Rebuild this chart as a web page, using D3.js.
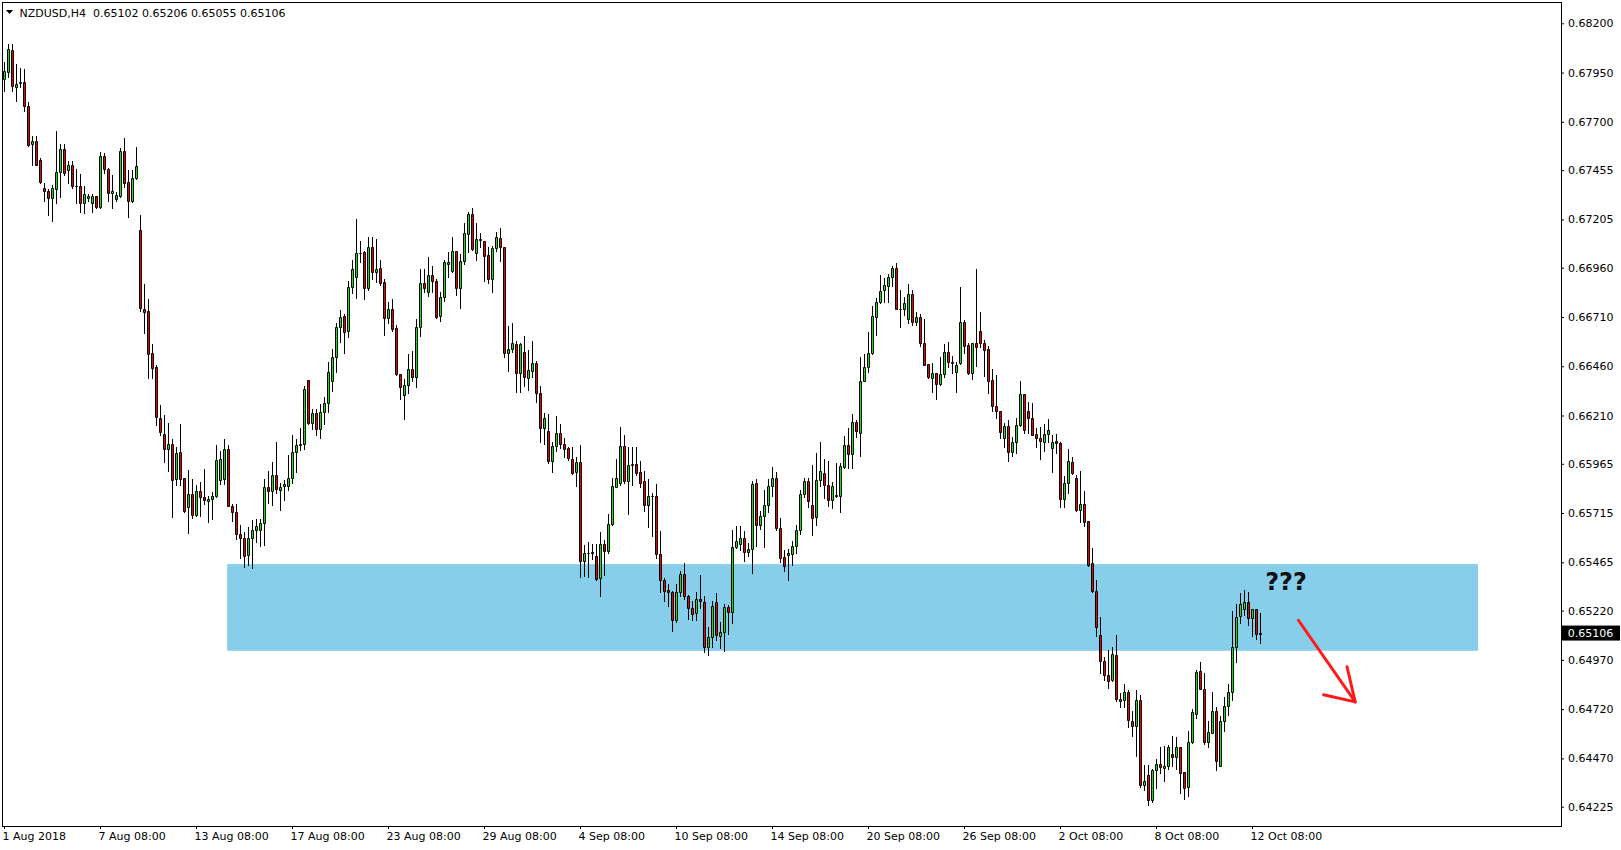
<!DOCTYPE html>
<html><head><meta charset="utf-8">
<script src="https://cdn.jsdelivr.net/npm/d3@7"></script>
<style>html,body{margin:0;padding:0;background:#fff;overflow:hidden}</style>
</head><body>
<svg id="chart" width="1621" height="850"></svg>
<script>
// ---- DATA (NZDUSD H4, 1 Aug 08:00 -> 12 Oct 16:00 2018) ----
const symbolTitle = "NZDUSD,H4";
const opens = [
0.67918,0.67952,0.68065,0.67879,0.67899,0.67901,0.67779,0.67587,0.67604,0.67507,
0.67364,0.67350,0.67316,0.67360,0.67443,0.67561,0.67455,0.67482,0.67372,0.67375,
0.67287,0.67316,0.67287,0.67323,0.67270,0.67527,0.67460,0.67340,0.67309,0.67326,
0.67553,0.67396,0.67296,0.67414,0.67151,0.66749,0.66741,0.66526,0.66455,0.66196,
0.66115,0.66039,0.66065,0.65887,0.66024,0.65892,0.65744,0.65811,0.65703,0.65828,
0.65796,0.65774,0.65787,0.65799,0.65882,0.65887,0.66039,0.65752,0.65720,0.65608,
0.65588,0.65500,0.65588,0.65627,0.65627,0.65664,0.65847,0.65825,0.65906,0.65833,
0.65853,0.65850,0.65895,0.66027,0.66058,0.66065,0.66391,0.66174,0.66222,0.66140,
0.66230,0.66272,0.66386,0.66509,0.66661,0.66715,0.66641,0.66860,0.66911,0.67033,
0.67038,0.66859,0.67063,0.66937,0.66957,0.66886,0.66703,0.66749,0.66653,0.66419,
0.66315,0.66364,0.66444,0.66407,0.66657,0.66880,0.66838,0.66923,0.66892,0.66717,
0.66810,0.66977,0.66943,0.67044,0.66859,0.66994,0.67129,0.67230,0.67036,0.67104,
0.67097,0.67024,0.66904,0.67058,0.67109,0.67063,0.66529,0.66546,0.66573,0.66424,
0.66531,0.66399,0.66438,0.66475,0.66323,0.66145,0.66133,0.65981,0.66055,0.66120,
0.66064,0.66044,0.65988,0.65922,0.65973,0.65474,0.65511,0.65513,0.65498,0.65383,
0.65559,0.65520,0.65660,0.65849,0.65870,0.66055,0.65880,0.65959,0.65964,0.65922,
0.65878,0.65756,0.65802,0.65802,0.65508,0.65376,0.65325,0.65314,0.65170,0.65312,
0.65407,0.65295,0.65233,0.65207,0.65278,0.65263,0.65033,0.65086,0.65263,0.65089,
0.65111,0.65238,0.65211,0.65542,0.65557,0.65588,0.65515,0.65532,0.65866,0.65652,
0.65698,0.65755,0.65850,0.65892,0.65638,0.65491,0.65500,0.65508,0.65549,0.65630,
0.65811,0.65878,0.65757,0.65693,0.65884,0.65918,0.65855,0.65779,0.65808,0.65799,
0.65951,0.66061,0.66014,0.66176,0.66121,0.66386,0.66455,0.66526,0.66712,0.66785,
0.66847,0.66868,0.66911,0.66957,0.66749,0.66749,0.66698,0.66827,0.66682,0.66709,
0.66580,0.66470,0.66399,0.66425,0.66369,0.66420,0.66531,0.66480,0.66430,0.66475,
0.66683,0.66568,0.66424,0.66577,0.66641,0.66580,0.66546,0.66391,0.66260,0.66235,
0.66095,0.66157,0.66027,0.66078,0.66162,0.66318,0.66233,0.66196,0.66117,0.66095,
0.66078,0.66117,0.66044,0.66081,0.66070,0.65786,0.65870,0.65976,0.65892,0.65728,
0.65760,0.65675,0.65461,0.65322,0.65094,0.64966,0.64895,0.64866,0.64996,0.64771,
0.64768,0.64807,0.64661,0.64633,0.64768,0.64337,0.64387,0.64257,0.64412,0.64441,
0.64421,0.64429,0.64491,0.64476,0.64527,0.64400,0.64324,0.64552,0.64694,0.64914,
0.64821,0.64551,0.64601,0.64713,0.64429,0.64662,0.64738,0.64806,0.65034,0.65193,
0.65227,0.65265,0.65181,0.65227,0.65102];
const highs = [
0.68006,0.68094,0.68094,0.67992,0.67972,0.67969,0.67803,0.67626,0.67626,0.67519,
0.67389,0.67360,0.67377,0.67654,0.67587,0.67587,0.67499,0.67502,0.67460,0.67435,
0.67372,0.67333,0.67333,0.67326,0.67549,0.67541,0.67468,0.67431,0.67343,0.67566,
0.67617,0.67457,0.67457,0.67573,0.67228,0.66877,0.66801,0.66573,0.66467,0.66264,
0.66210,0.66171,0.66092,0.66048,0.66166,0.65892,0.65935,0.65889,0.65858,0.65875,
0.65940,0.65804,0.65824,0.66058,0.66031,0.66092,0.66061,0.65762,0.65762,0.65656,
0.65618,0.65642,0.65681,0.65685,0.65686,0.65887,0.65929,0.65974,0.66075,0.65867,
0.65884,0.66011,0.66112,0.66092,0.66146,0.66360,0.66391,0.66244,0.66244,0.66267,
0.66305,0.66480,0.66548,0.66678,0.66746,0.66724,0.66893,0.66999,0.67207,0.67095,
0.67045,0.67114,0.67114,0.67106,0.66999,0.66903,0.66784,0.66800,0.66670,0.66419,
0.66396,0.66523,0.66537,0.66700,0.66953,0.66953,0.67016,0.66970,0.66902,0.66835,
0.66999,0.67041,0.67117,0.67044,0.67029,0.67188,0.67240,0.67261,0.67188,0.67134,
0.67097,0.67066,0.67071,0.67142,0.67159,0.67063,0.66664,0.66678,0.66590,0.66576,
0.66615,0.66543,0.66588,0.66487,0.66360,0.66225,0.66218,0.66074,0.66208,0.66165,
0.66094,0.66049,0.66049,0.66001,0.66061,0.65553,0.65567,0.65557,0.65557,0.65621,
0.65579,0.65711,0.65892,0.65988,0.66153,0.66111,0.66052,0.66052,0.66052,0.65979,
0.65929,0.65887,0.65816,0.65863,0.65626,0.65385,0.65356,0.65317,0.65356,0.65419,
0.65461,0.65300,0.65267,0.65316,0.65402,0.65295,0.65136,0.65267,0.65309,0.65162,
0.65253,0.65250,0.65630,0.65650,0.65650,0.65625,0.65562,0.65878,0.65888,0.65723,
0.65833,0.65888,0.65948,0.65922,0.65689,0.65529,0.65532,0.65571,0.65652,0.65833,
0.65892,0.65892,0.65959,0.66022,0.66073,0.65990,0.65980,0.65872,0.65968,0.65968,
0.66104,0.66146,0.66219,0.66188,0.66509,0.66523,0.66636,0.66766,0.66805,0.66923,
0.66910,0.66928,0.66971,0.66986,0.66847,0.66810,0.66878,0.66847,0.66737,0.66726,
0.66698,0.66470,0.66475,0.66425,0.66509,0.66573,0.66582,0.66513,0.66483,0.66864,
0.66695,0.66577,0.66577,0.66952,0.66734,0.66593,0.66563,0.66445,0.66416,0.66235,
0.66171,0.66188,0.66100,0.66196,0.66385,0.66318,0.66276,0.66272,0.66145,0.66151,
0.66168,0.66191,0.66112,0.66117,0.66078,0.65904,0.66040,0.65998,0.65909,0.65929,
0.65827,0.65675,0.65540,0.65376,0.65190,0.64984,0.65018,0.65035,0.65097,0.64802,
0.64847,0.64815,0.64712,0.64815,0.64793,0.64438,0.64437,0.64417,0.64468,0.64530,
0.64534,0.64539,0.64584,0.64581,0.64527,0.64400,0.64610,0.64721,0.64919,0.64958,
0.64902,0.64662,0.64806,0.64733,0.64686,0.64780,0.64848,0.65218,0.65254,0.65308,
0.65325,0.65316,0.65227,0.65227,0.65206];
const lows = [
0.67854,0.67930,0.67857,0.67806,0.67879,0.67756,0.67575,0.67482,0.67482,0.67389,
0.67296,0.67228,0.67195,0.67287,0.67321,0.67431,0.67389,0.67364,0.67287,0.67242,
0.67237,0.67299,0.67242,0.67265,0.67262,0.67440,0.67299,0.67262,0.67299,0.67321,
0.67367,0.67215,0.67292,0.67411,0.66740,0.66631,0.66398,0.66398,0.66163,0.66109,
0.65972,0.65926,0.65693,0.65855,0.65858,0.65718,0.65613,0.65688,0.65698,0.65698,
0.65760,0.65669,0.65686,0.65794,0.65862,0.65862,0.65749,0.65673,0.65583,0.65487,
0.65439,0.65449,0.65436,0.65568,0.65546,0.65554,0.65765,0.65757,0.65816,0.65732,
0.65782,0.65833,0.65867,0.65921,0.66036,0.66041,0.66166,0.66142,0.66112,0.66095,
0.66166,0.66230,0.66332,0.66430,0.66582,0.66526,0.66607,0.66830,0.66808,0.66991,
0.66801,0.66847,0.66903,0.66889,0.66872,0.66616,0.66681,0.66639,0.66416,0.66293,
0.66191,0.66323,0.66385,0.66357,0.66613,0.66838,0.66818,0.66838,0.66703,0.66691,
0.66793,0.66911,0.66940,0.66821,0.66757,0.66977,0.67038,0.67050,0.66999,0.67066,
0.66892,0.66884,0.66838,0.67044,0.66995,0.66509,0.66438,0.66534,0.66331,0.66331,
0.66362,0.66340,0.66407,0.66276,0.66073,0.66064,0.65971,0.65925,0.66032,0.66044,
0.66001,0.65985,0.65913,0.65851,0.65393,0.65398,0.65393,0.65483,0.65373,0.65292,
0.65402,0.65511,0.65655,0.65846,0.65858,0.65866,0.65711,0.65858,0.65908,0.65846,
0.65723,0.65643,0.65599,0.65486,0.65312,0.65271,0.65241,0.65114,0.65162,0.65292,
0.65278,0.65179,0.65174,0.65170,0.65233,0.65010,0.64996,0.65033,0.65072,0.65030,
0.65013,0.65101,0.65157,0.65540,0.65525,0.65474,0.65495,0.65410,0.65550,0.65635,
0.65545,0.65718,0.65804,0.65630,0.65466,0.65419,0.65373,0.65449,0.65512,0.65610,
0.65796,0.65748,0.65605,0.65656,0.65854,0.65791,0.65752,0.65740,0.65798,0.65718,
0.65943,0.65946,0.65946,0.66100,0.66002,0.66383,0.66433,0.66523,0.66619,0.66780,
0.66788,0.66788,0.66868,0.66749,0.66661,0.66720,0.66678,0.66670,0.66670,0.66563,
0.66467,0.66399,0.66327,0.66293,0.66366,0.66404,0.66455,0.66425,0.66331,0.66470,
0.66526,0.66421,0.66394,0.66462,0.66556,0.66408,0.66326,0.66235,0.66196,0.66095,
0.66048,0.65977,0.66005,0.66022,0.66157,0.66123,0.66120,0.66112,0.66049,0.65988,
0.66032,0.66078,0.65921,0.66019,0.65748,0.65745,0.65819,0.65914,0.65723,0.65672,
0.65650,0.65447,0.65312,0.65092,0.64903,0.64869,0.64827,0.64861,0.64759,0.64729,
0.64729,0.64629,0.64582,0.64484,0.64323,0.64311,0.64235,0.64247,0.64319,0.64395,
0.64353,0.64417,0.64429,0.64415,0.64297,0.64263,0.64277,0.64547,0.64674,0.64821,
0.64544,0.64530,0.64598,0.64409,0.64429,0.64611,0.64691,0.64767,0.64961,0.65159,
0.65198,0.65147,0.65091,0.65076,0.65055];
const closes = [
0.67958,0.68070,0.67884,0.67891,0.67901,0.67778,0.67583,0.67604,0.67482,0.67397,
0.67347,0.67313,0.67364,0.67448,0.67563,0.67438,0.67482,0.67372,0.67375,0.67287,
0.67333,0.67326,0.67323,0.67270,0.67527,0.67460,0.67338,0.67347,0.67330,0.67553,
0.67392,0.67296,0.67414,0.67475,0.66755,0.66737,0.66524,0.66453,0.66200,0.66124,
0.66039,0.66065,0.65882,0.66019,0.65887,0.65723,0.65811,0.65703,0.65828,0.65794,
0.65779,0.65787,0.65801,0.65985,0.65989,0.66039,0.65749,0.65722,0.65608,0.65588,
0.65495,0.65588,0.65630,0.65647,0.65664,0.65847,0.65825,0.65906,0.65838,0.65845,
0.65862,0.65895,0.66027,0.66058,0.66066,0.66345,0.66174,0.66222,0.66142,0.66230,
0.66272,0.66430,0.66506,0.66661,0.66712,0.66636,0.66860,0.66952,0.67033,0.67036,
0.66859,0.67063,0.66937,0.66952,0.66884,0.66703,0.66749,0.66649,0.66419,0.66354,
0.66364,0.66445,0.66407,0.66657,0.66880,0.66855,0.66923,0.66892,0.66712,0.66810,
0.66987,0.66990,0.67044,0.66859,0.66994,0.67134,0.67230,0.67055,0.67104,0.67099,
0.67021,0.66904,0.67058,0.67114,0.67063,0.66529,0.66546,0.66576,0.66424,0.66573,
0.66404,0.66441,0.66475,0.66326,0.66145,0.66196,0.65981,0.66055,0.66120,0.66064,
0.66039,0.65993,0.65920,0.65973,0.65474,0.65511,0.65513,0.65516,0.65380,0.65559,
0.65520,0.65660,0.65853,0.65892,0.66055,0.65880,0.65959,0.65962,0.65920,0.65870,
0.65756,0.65802,0.65800,0.65508,0.65373,0.65317,0.65312,0.65170,0.65314,0.65407,
0.65295,0.65233,0.65202,0.65278,0.65267,0.65033,0.65086,0.65241,0.65094,0.65111,
0.65238,0.65211,0.65542,0.65571,0.65588,0.65515,0.65532,0.65861,0.65652,0.65701,
0.65755,0.65850,0.65892,0.65638,0.65486,0.65444,0.65512,0.65549,0.65630,0.65811,
0.65878,0.65774,0.65692,0.65884,0.65926,0.65855,0.65779,0.65853,0.65803,0.65955,
0.66061,0.66014,0.66176,0.66132,0.66386,0.66455,0.66526,0.66715,0.66785,0.66842,
0.66873,0.66911,0.66957,0.66749,0.66751,0.66780,0.66827,0.66682,0.66709,0.66580,
0.66467,0.66403,0.66425,0.66369,0.66420,0.66531,0.66480,0.66478,0.66465,0.66683,
0.66565,0.66424,0.66577,0.66560,0.66580,0.66543,0.66387,0.66260,0.66235,0.66125,
0.66157,0.66027,0.66078,0.66162,0.66318,0.66137,0.66196,0.66112,0.66095,0.66083,
0.66117,0.66134,0.66078,0.66070,0.65786,0.65867,0.65980,0.65917,0.65728,0.65760,
0.65672,0.65452,0.65320,0.65136,0.64962,0.64891,0.64861,0.64999,0.64771,0.64759,
0.64807,0.64663,0.64633,0.64768,0.64337,0.64354,0.64257,0.64412,0.64441,0.64426,
0.64432,0.64527,0.64476,0.64527,0.64395,0.64319,0.64552,0.64704,0.64907,0.64821,
0.64551,0.64603,0.64713,0.64459,0.64662,0.64738,0.64806,0.65034,0.65189,0.65254,
0.65265,0.65181,0.65227,0.65100,0.65106];

const priceTicks = [0.68200,0.67950,0.67700,0.67455,0.67205,0.66960,0.66710,0.66460,0.66210,0.65965,0.65715,0.65465,0.65220,0.64970,0.64720,0.64470,0.64225];
const priceTickLabels = ["0.68200","0.67950","0.67700","0.67455","0.67205","0.66960","0.66710","0.66460","0.66210","0.65965","0.65715","0.65465","0.65220","0.64970","0.64720","0.64470","0.64225"];
const timeTickBars = [0,24,48,72,96,120,144,168,192,216,240,264,288,312];
const timeTickLabels = ["1 Aug 2018","7 Aug 08:00","13 Aug 08:00","17 Aug 08:00","23 Aug 08:00","29 Aug 08:00","4 Sep 08:00","10 Sep 08:00","14 Sep 08:00","20 Sep 08:00","26 Sep 08:00","2 Oct 08:00","8 Oct 08:00","12 Oct 08:00"];
// annotation: support/resistance zone (bar index range, price range)
const zoneBars = [55.8, 368.5];
const zonePrices = [0.65456, 0.65016];
// annotation: "???" and arrow (bar index, price)
const questionPos = [315.3, 0.65323];
const arrowLine = [[323.6, 0.65171],[337.8, 0.64757]];
const arrowHead = [[329.9, 0.64793],[337.8, 0.64757],[335.75, 0.64935]];

// ---- DRAW ----
const svg = d3.select("#chart");
const FONT = "DejaVu Sans, Verdana, sans-serif";
const UP = "#00f000", DOWN = "#f00000";

const x = d3.scaleLinear().domain([0, 314]).range([4, 1260]);
const y = d3.scaleLinear().domain([0.64225, 0.68200]).range([806.7, 23.3]);
const py = v => Math.round(y(v));

svg.append("rect").attr("width",1621).attr("height",850).attr("fill","#fff");

// zone
svg.append("rect")
  .attr("x", x(zoneBars[0])).attr("width", x(zoneBars[1]) - x(zoneBars[0]))
  .attr("y", y(zonePrices[0])).attr("height", y(zonePrices[1]) - y(zonePrices[0]))
  .attr("fill", "#87ceeb");

const bars = d3.range(opens.length).map(i => ({i, o:opens[i], h:highs[i], l:lows[i], c:closes[i]}));

const gC = svg.append("g");
gC.selectAll("line.wick").data(bars).join("line")
  .attr("class","wick")
  .attr("x1", d => Math.round(x(d.i)) + 0.5).attr("x2", d => Math.round(x(d.i)) + 0.5)
  .attr("y1", d => py(d.h)).attr("y2", d => py(d.l) + 1)
  .attr("stroke", "#000").attr("stroke-width", 1).attr("shape-rendering","crispEdges");

gC.selectAll("path.body").data(bars).join("path")
  .attr("class","body")
  .attr("d", d => {
    const cx = Math.round(x(d.i));
    const t = Math.min(py(d.o), py(d.c)), b = Math.max(py(d.o), py(d.c));
    return `M${cx-0.5},${t+0.5}H${cx+1.5}V${b+0.5}H${cx-0.5}Z`;
  })
  .attr("fill", d => d.c >= d.o ? UP : DOWN)
  .attr("stroke", "#000").attr("stroke-width", 1);

// frame
svg.append("rect").attr("x",2.5).attr("y",2.5).attr("width",1559).attr("height",824)
  .attr("fill","none").attr("stroke","#000").attr("stroke-width",1);

// right price axis
const yAxis = d3.axisRight(y).tickValues(priceTicks)
  .tickFormat((d,i) => priceTickLabels[i]).tickSize(3).tickPadding(4);
const gy = svg.append("g").attr("transform","translate(1561,0)").call(yAxis);
gy.select(".domain").remove();
gy.attr("font-family", FONT).attr("font-size", 11);
gy.selectAll("text").attr("fill","#000");
gy.selectAll("line").attr("stroke","#000");

// bottom time axis
const xAxis = d3.axisBottom(x).tickValues(timeTickBars)
  .tickFormat((d,i) => timeTickLabels[i]).tickSize(3).tickPadding(3);
const gx = svg.append("g").attr("transform","translate(0,826)").call(xAxis);
gx.select(".domain").remove();
gx.attr("font-family", FONT).attr("font-size", 11);
gx.selectAll("text").attr("fill","#000").attr("text-anchor","start").attr("dx", -2);
gx.selectAll("line").attr("stroke","#000");

// current price label
const last = closes[closes.length-1];
svg.append("rect").attr("x",1562).attr("y", y(last)-7.5).attr("width",58).attr("height",15).attr("fill","#000");
svg.append("text").attr("x",1567.7).attr("y", y(last)).attr("dy","0.35em")
  .attr("font-family",FONT).attr("font-size",11).attr("fill","#fff")
  .text(d3.format(".5f")(last));

// header
svg.append("path").attr("d","M6,10L13,10L9.5,14Z").attr("fill","#000");
const n = opens.length - 1;
svg.append("text").attr("x",19.5).attr("y",16.5)
  .attr("font-family",FONT).attr("font-size",11).attr("fill","#000")
  .attr("xml:space","preserve").style("white-space","pre")
  .text(`${symbolTitle}  ${opens[n].toFixed(5)} ${highs[n].toFixed(5)} ${lows[n].toFixed(5)} ${closes[n].toFixed(5)}`);

// annotations
svg.append("text").attr("x", x(questionPos[0])).attr("y", y(questionPos[1]))
  .attr("font-family","DejaVu Sans, sans-serif").attr("font-weight","bold").attr("font-size",24)
  .attr("fill","#111").text("???");

const lineGen = d3.line().x(d => x(d[0])).y(d => y(d[1]));
svg.append("path").attr("d", lineGen(arrowLine)).attr("fill","none")
  .attr("stroke","#ff1a1a").attr("stroke-width",3).attr("stroke-linecap","round");
svg.append("path").attr("d", lineGen(arrowHead)).attr("fill","none")
  .attr("stroke","#ff1a1a").attr("stroke-width",3).attr("stroke-linecap","round").attr("stroke-linejoin","round");
</script>
</body></html>
